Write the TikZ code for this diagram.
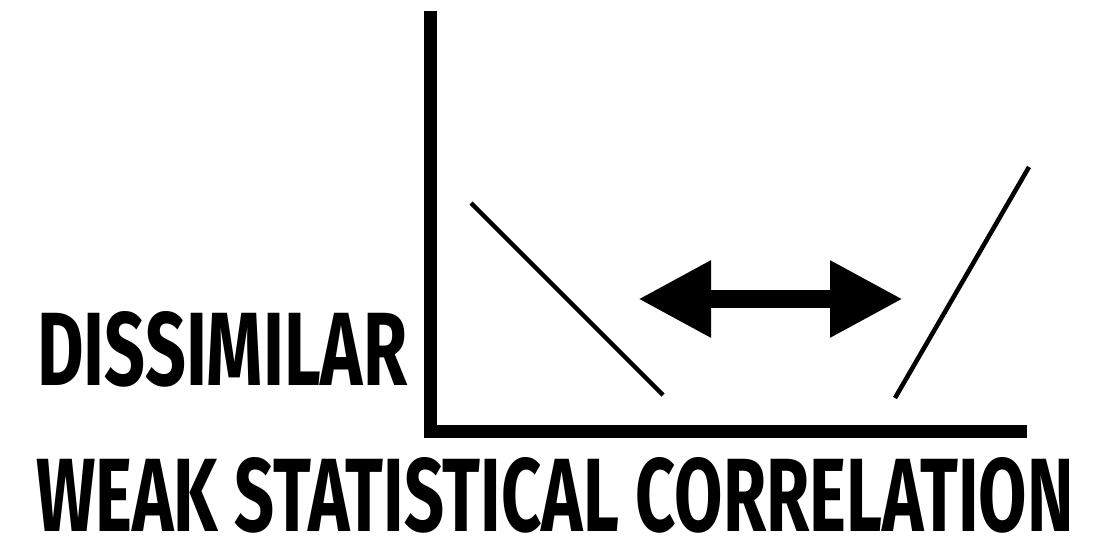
\documentclass[tikz,border=0pt]{standalone}
\usepackage{fontspec}
\setmainfont{Fira Sans}
\usepackage{graphicx}
\usetikzlibrary{arrows.meta}
\tikzstyle{bigtxt}=[inner sep=0pt,anchor=base west,font=\bfseries]
\tikzstyle{axline}=[line width=9.75pt,line join=miter,line cap=butt]
\tikzstyle{trend}=[line width=3.4pt,line cap=butt]
\tikzstyle{dbl}=[line width=13.5pt,{Triangle[length=54.75pt,width=54pt]}-{Triangle[length=54.75pt,width=54pt]}]

\begin{document}
\begin{tikzpicture}[x=0.75pt,y=-0.75pt]
\useasboundingbox (0,0) rectangle (1101,547);
\coordinate (ytop) at (430.5,11);
\coordinate (orig) at (430.5,431.5);
\coordinate (xend) at (1027,431.5);
\coordinate (la) at (471,203);
\coordinate (lb) at (663,395);
\coordinate (ra) at (895,398);
\coordinate (rb) at (1029,167);
\coordinate (al) at (638,299);
\coordinate (ar) at (903,299);
\node[bigtxt] (dis) at (37,385) {\resizebox{277.5pt}{55.5pt}{DISSIMILAR}};
\node[bigtxt] (weak) at (36,531) {\resizebox{777.75pt}{55.5pt}{WEAK STATISTICAL CORRELATION}};
\draw[axline] (ytop)--(orig)--(xend);
\draw[trend] (la)--(lb);
\draw[trend] (ra)--(rb);
\draw[dbl] (al)--(ar);
\end{tikzpicture}
\end{document}
